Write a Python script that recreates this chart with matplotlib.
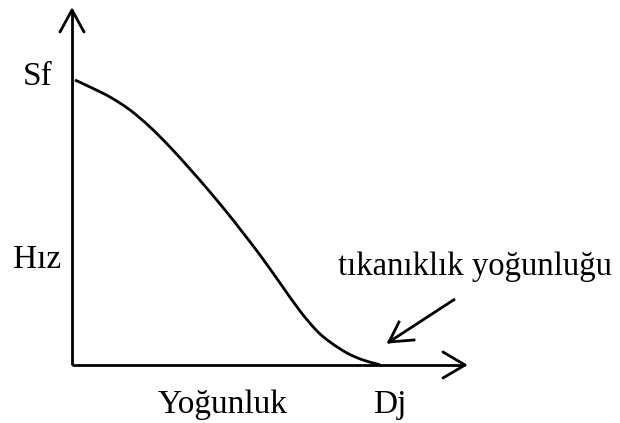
import numpy as np
import matplotlib
matplotlib.use("Agg")
import matplotlib.pyplot as plt
from matplotlib.path import Path
from matplotlib.patches import PathPatch

# Speed-density relationship (schematic units)
density = [3, 18, 38, 58, 78, 98, 118, 138, 157, 168, 188, 208, 228, 245, 258, 275, 291, 305, 308]
speed = [285, 278, 268, 255, 238, 218, 196, 173, 150, 136, 110, 82, 54, 34, 23, 12, 5, 1, 0]

label_free_speed = "Sf"
label_speed = "Hız"
label_density = "Yoğunluk"
label_jam = "Dj"
label_jam_text = "tıkanıklık yoğunluğu"

FONT = "Liberation Serif"
LW = 2.0

fig = plt.figure(figsize=(6.20, 4.23), dpi=100)
ax = fig.add_axes([0, 0, 1, 1])
ax.set_xlim(-72, 548)
ax.set_ylim(-58, 365)
ax.axis("off")


def open_arrow(x0, y0, x1, y1, head_len, head_w):
    ax.plot([x0, x1], [y0, y1], color="black", lw=LW, solid_capstyle="butt")
    d = np.array([x1 - x0, y1 - y0], dtype=float)
    d /= np.hypot(*d)
    n = np.array([-d[1], d[0]])
    tip = np.array([x1, y1])
    base = tip - d * head_len
    for s in (1, -1):
        p = base + s * n * head_w
        ax.plot([tip[0], p[0]], [tip[1], p[1]], color="black", lw=LW,
                solid_capstyle="round")


def smooth_path(xs, ys):
    """Cubic Bezier path through the points (Catmull-Rom tangents)."""
    pts = np.column_stack([xs, ys]).astype(float)
    verts = [pts[0]]
    codes = [Path.MOVETO]
    for i in range(len(pts) - 1):
        p0 = pts[i - 1] if i > 0 else pts[i]
        p1, p2 = pts[i], pts[i + 1]
        p3 = pts[i + 2] if i + 2 < len(pts) else pts[i + 1]
        c1 = p1 + (p2 - p0) / 6.0
        c2 = p2 - (p3 - p1) / 6.0
        verts += [c1, c2, p2]
        codes += [Path.CURVE4] * 3
    return Path(verts, codes)


# Axes with open arrowheads
open_arrow(0, 0, 393, 0, 22, 13)
open_arrow(0, 0, 0, 355, 22, 12)

# Curve
ax.add_patch(PathPatch(smooth_path(density, speed), fill=False,
                       edgecolor="black", lw=LW, joinstyle="round"))

# Pointer to jam density
open_arrow(383, 66, 317, 23, 0, 0)
ax.plot([317, 342], [23, 25], color="black", lw=LW)
ax.plot([317, 327], [23, 43], color="black", lw=LW)

fs = 24
kw = dict(fontsize=fs, family=FONT, ha="left", va="baseline")
ax.text(-49, 280, label_free_speed, **kw)
ax.text(-59, 97, label_speed, **kw)
ax.text(86, -48, label_density, **kw)
ax.text(301, -48, label_jam, **kw)
ax.text(266, 90, label_jam_text, fontsize=23.6, family=FONT, ha="left", va="baseline")

fig.savefig("out.png", dpi=100)
